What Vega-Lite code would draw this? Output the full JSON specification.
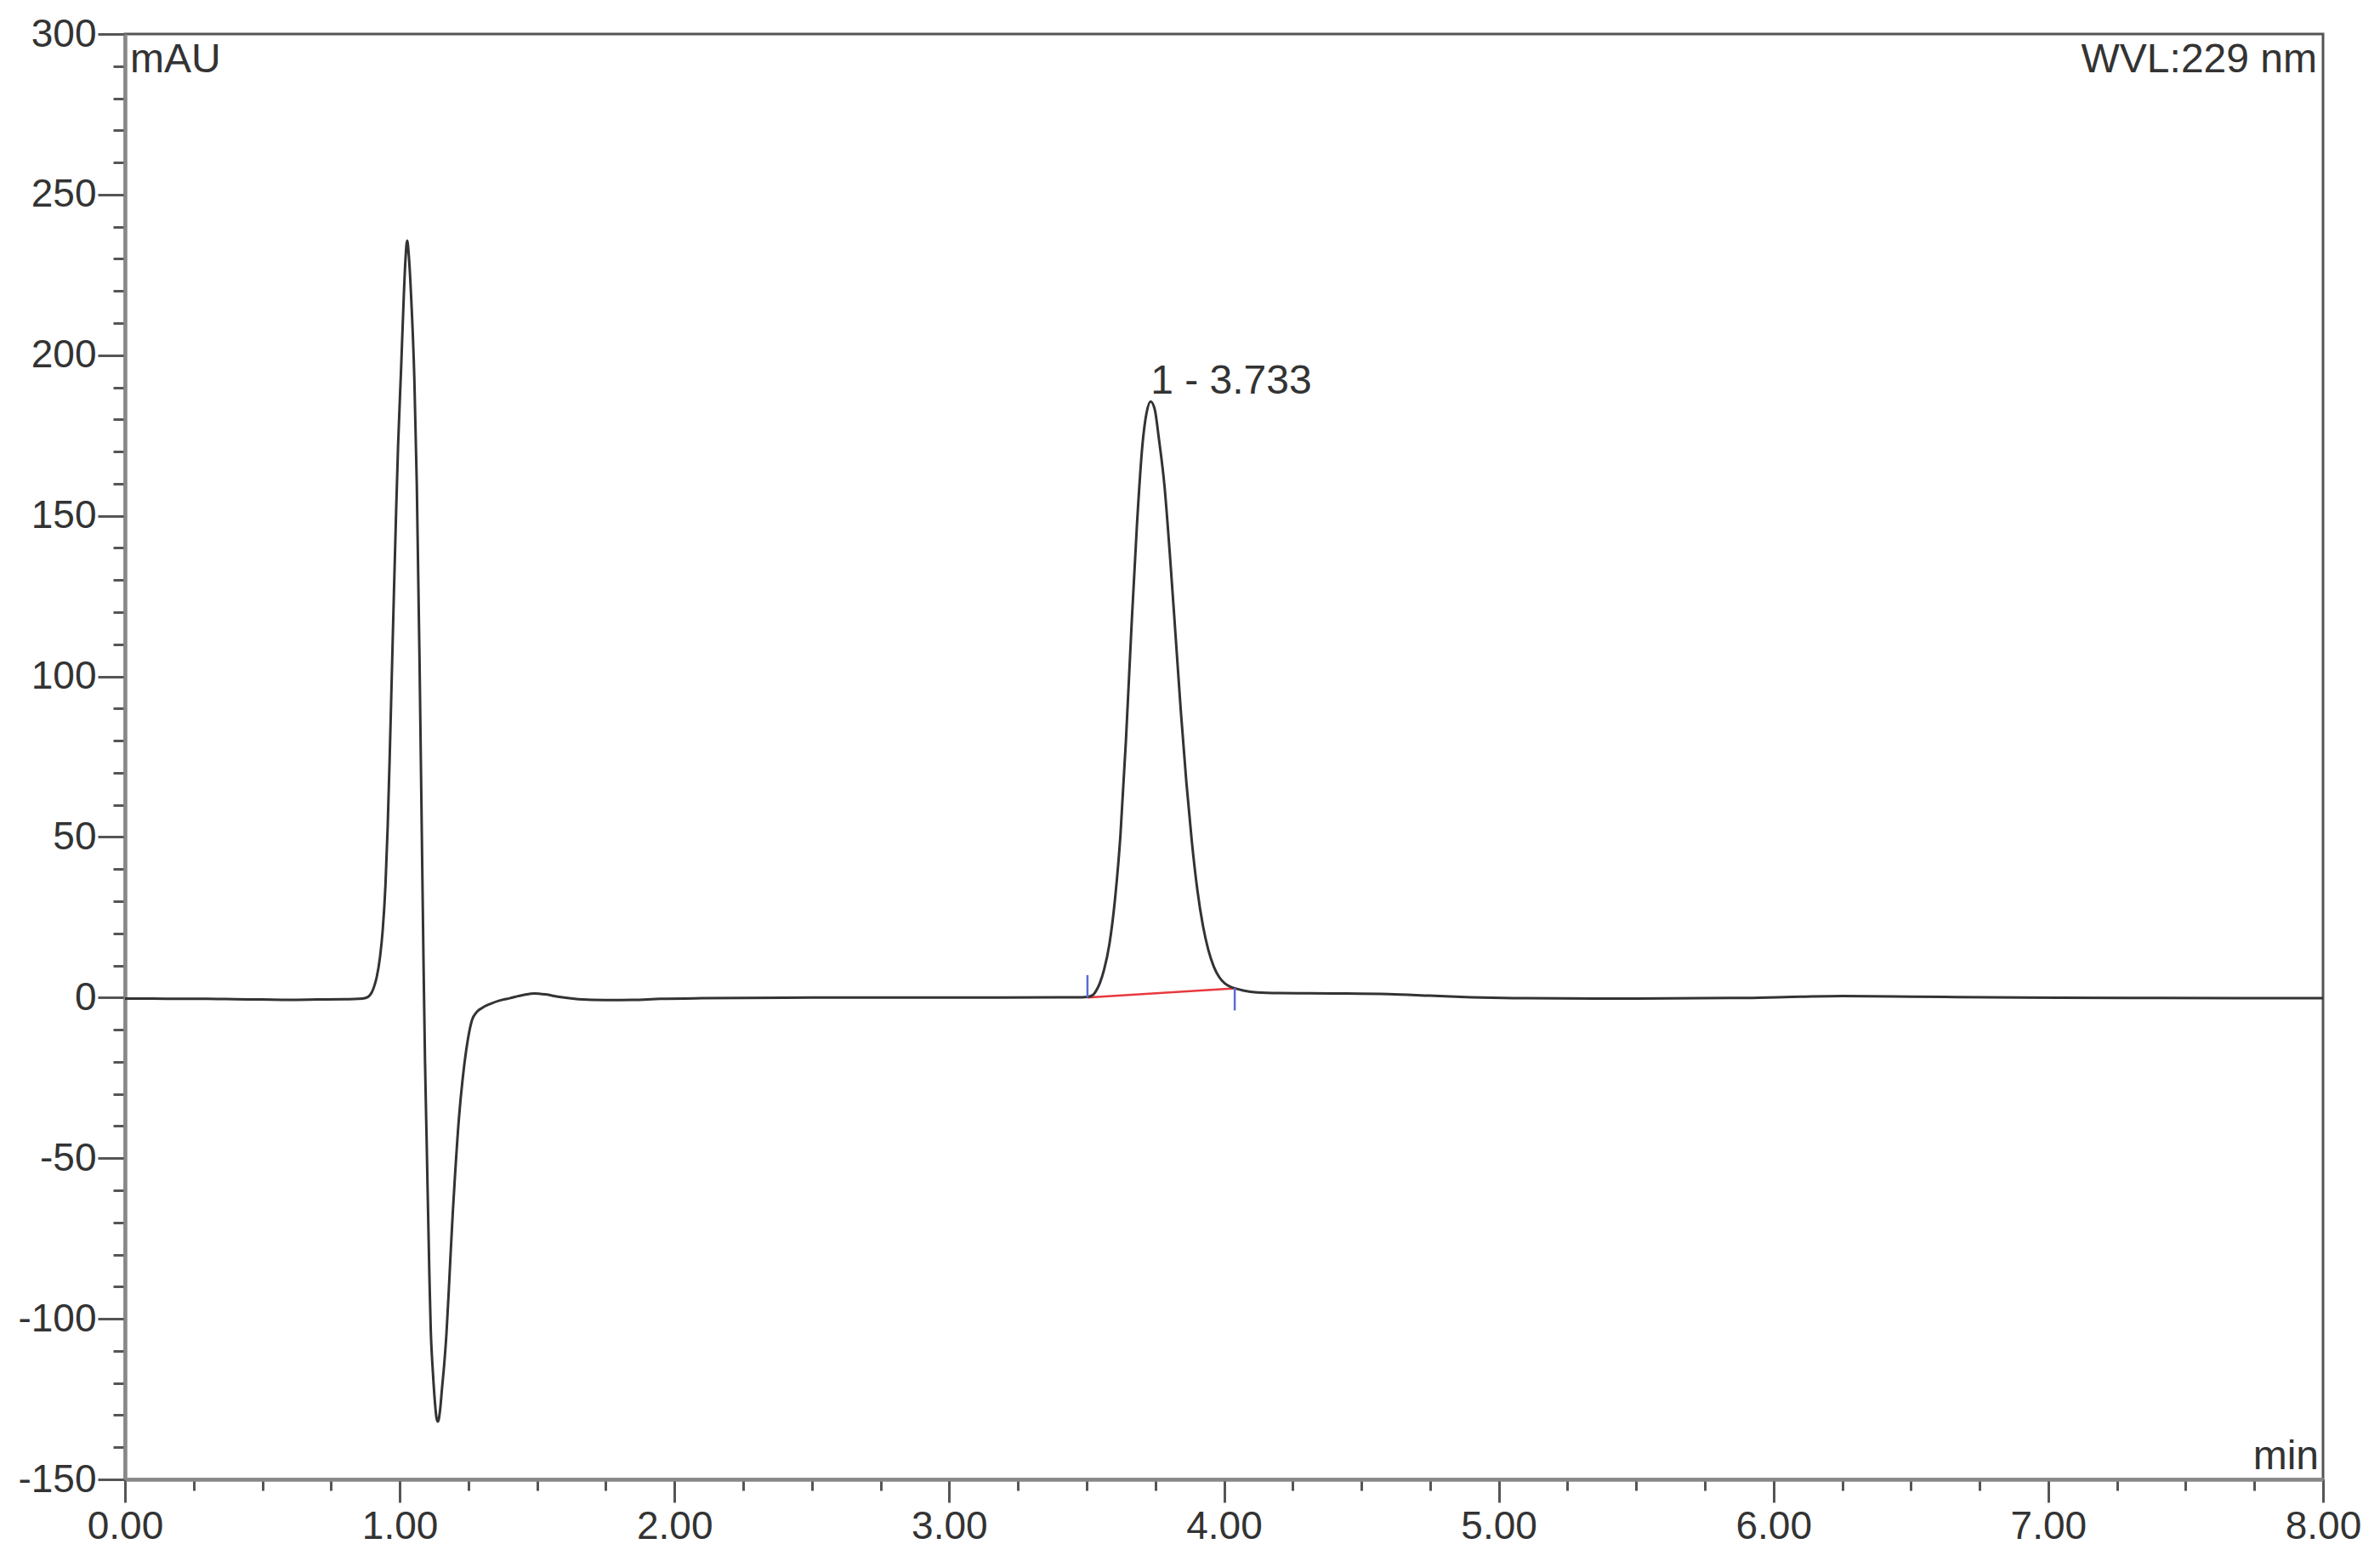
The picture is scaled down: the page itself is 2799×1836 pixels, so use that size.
{
  "$schema": "https://vega.github.io/schema/vega-lite/v6.json",
  "width": 2585,
  "height": 1700,
  "autosize": {"type": "none"},
  "padding": {"left": 147, "top": 40, "right": 67, "bottom": 96},
  "background": "white",
  "config": {
    "view": {"stroke": "#555555", "strokeWidth": 3},
    "font": "Liberation Sans",
    "axis": {
      "labelFont": "Liberation Sans",
      "labelFontSize": 46,
      "labelColor": "#333333",
      "grid": false,
      "title": null,
      "domainColor": "#888888",
      "domainWidth": 4,
      "tickColor": "#555555",
      "tickWidth": 3
    }
  },
  "datasets": {
    "curve": [
      {"t":0,"v":-0.3},{"t":0.1,"v":-0.3},{"t":0.2,"v":-0.4},{"t":0.3,"v":-0.4},{"t":0.4,"v":-0.5},{"t":0.5,"v":-0.6},{"t":0.6,"v":-0.7},{"t":0.7,"v":-0.6},{"t":0.8,"v":-0.5},{"t":0.85,"v":-0.4},{"t":0.876,"v":-0.1},{"t":0.89,"v":0.6},{"t":0.898,"v":1.6},{"t":0.907,"v":3.5},{"t":0.916,"v":6.3},{"t":0.928,"v":12.5},{"t":0.938,"v":21},{"t":0.948,"v":35},{"t":0.956,"v":53},{"t":0.963,"v":73.6},{"t":0.971,"v":100},{"t":0.979,"v":126.6},{"t":0.987,"v":152},{"t":0.994,"v":172},{"t":1.005,"v":196},{"t":1.015,"v":219},{"t":1.021,"v":230},{"t":1.027,"v":235.7},{"t":1.033,"v":231},{"t":1.041,"v":219},{"t":1.053,"v":193},{"t":1.062,"v":160},{"t":1.072,"v":105},{"t":1.082,"v":40},{"t":1.087,"v":8},{"t":1.092,"v":-20},{"t":1.098,"v":-45},{"t":1.108,"v":-87},{"t":1.113,"v":-104},{"t":1.118,"v":-113},{"t":1.123,"v":-120},{"t":1.129,"v":-127},{"t":1.134,"v":-131},{"t":1.139,"v":-132},{"t":1.146,"v":-129},{"t":1.154,"v":-121.5},{"t":1.162,"v":-114},{"t":1.17,"v":-104.6},{"t":1.178,"v":-92},{"t":1.185,"v":-80},{"t":1.193,"v":-67},{"t":1.2,"v":-57},{"t":1.215,"v":-38},{"t":1.232,"v":-23},{"t":1.248,"v":-13},{"t":1.263,"v":-7},{"t":1.28,"v":-4.5},{"t":1.3,"v":-3.2},{"t":1.331,"v":-1.9},{"t":1.36,"v":-1},{"t":1.4,"v":-0.2},{"t":1.45,"v":0.8},{"t":1.49,"v":1.3},{"t":1.53,"v":1.0},{"t":1.58,"v":0.2},{"t":1.65,"v":-0.5},{"t":1.75,"v":-0.8},{"t":1.85,"v":-0.7},{"t":1.95,"v":-0.4},{"t":2.1,"v":-0.2},{"t":2.5,"v":0},{"t":3.0,"v":0},{"t":3.4,"v":0.1},{"t":3.483,"v":0.1},{"t":3.503,"v":0.2},{"t":3.523,"v":0.8},{"t":3.533,"v":1.9},{"t":3.548,"v":4.5},{"t":3.563,"v":8.5},{"t":3.583,"v":16.7},{"t":3.603,"v":30.4},{"t":3.623,"v":50.5},{"t":3.643,"v":80},{"t":3.663,"v":115},{"t":3.683,"v":147},{"t":3.703,"v":172},{"t":3.718,"v":182},{"t":3.733,"v":185.6},{"t":3.748,"v":183.1},{"t":3.763,"v":174},{"t":3.783,"v":159.6},{"t":3.803,"v":137.9},{"t":3.823,"v":113.6},{"t":3.843,"v":89},{"t":3.863,"v":67},{"t":3.883,"v":48.5},{"t":3.903,"v":33.5},{"t":3.923,"v":22.5},{"t":3.943,"v":14.8},{"t":3.963,"v":9.6},{"t":3.983,"v":6.3},{"t":4.003,"v":4.4},{"t":4.023,"v":3.4},{"t":4.039,"v":2.9},{"t":4.07,"v":2.2},{"t":4.12,"v":1.6},{"t":4.2,"v":1.4},{"t":4.4,"v":1.3},{"t":4.6,"v":1.1},{"t":4.75,"v":0.6},{"t":4.9,"v":0.1},{"t":5.1,"v":-0.2},{"t":5.5,"v":-0.3},{"t":5.9,"v":-0.1},{"t":6.1,"v":0.3},{"t":6.25,"v":0.5},{"t":6.5,"v":0.3},{"t":6.9,"v":0},{"t":7.3,"v":-0.1},{"t":7.7,"v":-0.2},{"t":8.0,"v":-0.2}
    ],
    "baseline": [{"t1": 3.503, "v1": 0.0, "t2": 4.039, "v2": 2.9}],
    "marks": [{"t": 3.503, "a": 0, "b": 7}, {"t": 4.039, "a": 3, "b": -4}]
  },
  "layer": [
    {
      "data": {"name": "baseline"},
      "mark": {"type": "rule", "color": "#e8393f", "strokeWidth": 2.5},
      "encoding": {
        "x": {"field": "t1", "type": "quantitative",
              "scale": {"domain": [0, 8], "nice": false, "zero": false},
              "axis": {"orient": "bottom", "values": [0,0.25,0.5,0.75,1,1.25,1.5,1.75,2,2.25,2.5,2.75,3,3.25,3.5,3.75,4,4.25,4.5,4.75,5,5.25,5.5,5.75,6,6.25,6.5,6.75,7,7.25,7.5,7.75,8], "labels": false, "tickSize": 13}},
        "x2": {"field": "t2"},
        "y": {"field": "v1", "type": "quantitative",
              "scale": {"domain": [-150, 300], "nice": false, "zero": false},
              "axis": {"orient": "left", "values": [-150,-140,-130,-120,-110,-100,-90,-80,-70,-60,-50,-40,-30,-20,-10,0,10,20,30,40,50,60,70,80,90,100,110,120,130,140,150,160,170,180,190,200,210,220,230,240,250,260,270,280,290,300], "labels": false, "tickSize": 14}},
        "y2": {"field": "v2"}
      }
    },
    {
      "data": {"name": "curve"},
      "mark": {"type": "line", "color": "#333333", "strokeWidth": 3, "interpolate": "monotone"},
      "encoding": {
        "x": {"field": "t", "type": "quantitative",
              "scale": {"domain": [0, 8], "nice": false, "zero": false},
              "axis": {"orient": "bottom", "values": [0,1,2,3,4,5,6,7,8], "format": ".2f", "tickSize": 27, "labelPadding": 6, "labelFlush": false, "labelOverlap": false}},
        "y": {"field": "v", "type": "quantitative",
              "scale": {"domain": [-150, 300], "nice": false, "zero": false},
              "axis": {"orient": "left", "values": [-150,-100,-50,0,50,100,150,200,250,300], "labelExpr": "datum.value < 0 ? '-' + format(-datum.value, 'd') : format(datum.value, 'd')", "tickSize": 32, "labelPadding": 2, "labelFlush": false, "labelOverlap": false}}
      }
    },
    {
      "data": {"name": "marks"},
      "mark": {"type": "rule", "color": "#5b6bd6", "strokeWidth": 2.5},
      "encoding": {
        "x": {"field": "t", "type": "quantitative", "axis": null, "scale": {"domain": [0, 8], "nice": false, "zero": false}},
        "y": {"field": "a", "type": "quantitative", "axis": null, "scale": {"domain": [-150, 300], "nice": false, "zero": false}},
        "y2": {"field": "b"}
      }
    },
    {
      "data": {"values": [{"t": 0, "v": 300, "label": "mAU"}]},
      "mark": {"type": "text", "align": "left", "baseline": "top", "dx": 6, "dy": 7, "fontSize": 48, "font": "Liberation Sans", "color": "#333333"},
      "encoding": {
        "x": {"field": "t", "type": "quantitative", "axis": null, "scale": {"domain": [0, 8], "nice": false, "zero": false}},
        "y": {"field": "v", "type": "quantitative", "axis": null, "scale": {"domain": [-150, 300], "nice": false, "zero": false}},
        "text": {"field": "label"}
      }
    },
    {
      "data": {"values": [{"t": 8, "v": 300, "label": "WVL:229 nm"}]},
      "mark": {"type": "text", "align": "right", "baseline": "top", "dx": -7, "dy": 7, "fontSize": 48, "font": "Liberation Sans", "color": "#333333"},
      "encoding": {
        "x": {"field": "t", "type": "quantitative", "axis": null, "scale": {"domain": [0, 8], "nice": false, "zero": false}},
        "y": {"field": "v", "type": "quantitative", "axis": null, "scale": {"domain": [-150, 300], "nice": false, "zero": false}},
        "text": {"field": "label"}
      }
    },
    {
      "data": {"values": [{"t": 8, "v": -150, "label": "min"}]},
      "mark": {"type": "text", "align": "right", "baseline": "alphabetic", "dx": -5, "dy": -12, "fontSize": 48, "font": "Liberation Sans", "color": "#333333"},
      "encoding": {
        "x": {"field": "t", "type": "quantitative", "axis": null, "scale": {"domain": [0, 8], "nice": false, "zero": false}},
        "y": {"field": "v", "type": "quantitative", "axis": null, "scale": {"domain": [-150, 300], "nice": false, "zero": false}},
        "text": {"field": "label"}
      }
    },
    {
      "data": {"values": [{"t": 3.733, "v": 185.6, "label": "1 - 3.733"}]},
      "mark": {"type": "text", "align": "left", "baseline": "alphabetic", "dx": 0, "dy": -9, "fontSize": 48, "font": "Liberation Sans", "color": "#333333"},
      "encoding": {
        "x": {"field": "t", "type": "quantitative", "axis": null, "scale": {"domain": [0, 8], "nice": false, "zero": false}},
        "y": {"field": "v", "type": "quantitative", "axis": null, "scale": {"domain": [-150, 300], "nice": false, "zero": false}},
        "text": {"field": "label"}
      }
    }
  ],
  "resolve": {"axis": {"x": "independent", "y": "independent"}}
}
